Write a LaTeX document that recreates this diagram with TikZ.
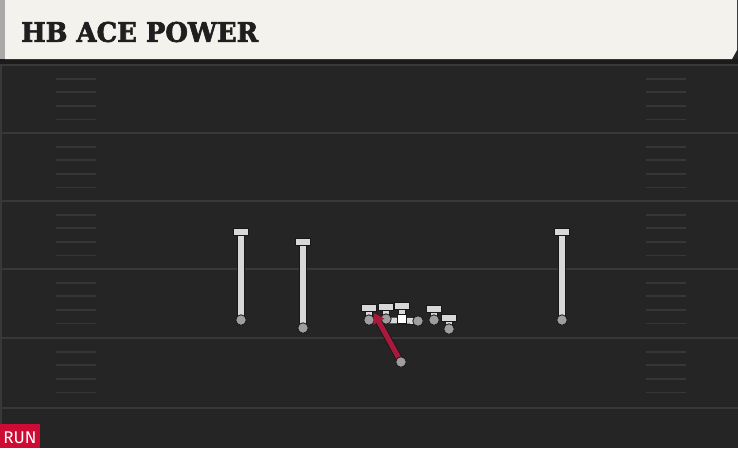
\documentclass[tikz,border=0pt]{standalone}
\usepackage{fontspec}
\usetikzlibrary{arrows.meta}
\newfontfamily\titlefont{DejaVu Serif Bold}[FakeBold=2.5]
\newfontfamily\tagfont{Fira Sans}
\definecolor{fieldbg}{HTML}{252525}
\definecolor{fieldline}{HTML}{383838}
\definecolor{hashc}{HTML}{363636}
\definecolor{cream}{HTML}{F4F2ED}
\definecolor{stripe}{HTML}{A9A9A9}
\definecolor{darkband}{HTML}{1B1B1B}
\definecolor{routec}{HTML}{D8D8D8}
\definecolor{outlinec}{HTML}{181818}
\definecolor{playerc}{HTML}{9E9E9E}
\definecolor{runred}{HTML}{A8193B}
\definecolor{tagred}{HTML}{CE0B34}
\tikzset{
  routeout/.style={line width=7.6pt, outlinec},
  routein/.style={line width=5.8pt, routec},
  player/.style={circle, fill=playerc, draw=outlinec, line width=0.8pt, minimum size=10.5pt, inner sep=0pt},
  center/.style={rectangle, fill=white, draw=outlinec, line width=0.6pt, minimum size=9.5pt, inner sep=0pt},
  tbar/.style={rectangle, fill=routec, draw=outlinec, line width=0.8pt, minimum width=14.5pt, minimum height=6.5pt, inner sep=0pt},
  yardline/.style={line width=2.2pt, fieldline},
  hashmark/.style={line width=1.8pt, hashc},
}
\begin{document}
\begin{tikzpicture}[x=1pt, y=-1pt]
\useasboundingbox (0,0) rectangle (738,448);
% field
\fill[fieldbg] (0,0) rectangle (738,448);
\fill[fieldline] (0,59) rectangle (2,448);
\foreach \yy in {65,133,201,269,338,408} {
  \draw[yardline] (0,\yy) -- (738,\yy);
}
\foreach \yy in {65,133,201,269,338} {
  \foreach \k in {1,2,3,4} {
    \draw[hashmark] (56,\yy+13.6*\k) -- (96,\yy+13.6*\k);
    \draw[hashmark] (646,\yy+13.6*\k) -- (686,\yy+13.6*\k);
  }
}
% header
\fill[darkband] (0,59) rectangle (738,64);
\fill[cream] (5,0) -- (737,0) -- (737,50) -- (732,59) -- (5,59) -- cycle;
\fill[stripe] (0,0) rectangle (5,59);
\node[anchor=west, inner sep=0pt, text=black!88] (title) at (21,32)
  {\resizebox{237pt}{20pt}{\titlefont HB ACE POWER}};
% coordinates
\coordinate (wra) at (241,320); \coordinate (wrat) at (241,232);
\coordinate (wrb) at (303,328); \coordinate (wrbt) at (303,242);
\coordinate (wrc) at (562,320); \coordinate (wrct) at (562,232);
\coordinate (lt) at (369,320);  \coordinate (ltt) at (369,308);
\coordinate (lg) at (386,319);  \coordinate (lgt) at (386,307);
\coordinate (cc) at (402,319);  \coordinate (cct) at (402,306);
\coordinate (rg) at (418,321);
\coordinate (rt) at (434,320);  \coordinate (rtt) at (434,309);
\coordinate (te) at (449,329);  \coordinate (tet) at (449,318);
\coordinate (rb) at (401,362);  \coordinate (rbtip) at (374,313);
% routes outline
\foreach \a/\b in {wra/wrat, wrb/wrbt, wrc/wrct, lt/ltt, lg/lgt, cc/cct, rt/rtt, te/tet} {
  \draw[routeout] (\a) -- (\b);
}
\draw[routeout] (lt) -- (rg);
\foreach \a/\b in {wra/wrat, wrb/wrbt, wrc/wrct, lt/ltt, lg/lgt, cc/cct, rt/rtt, te/tet} {
  \draw[routein] (\a) -- (\b);
}
\draw[routein, line cap=round] (lt) -- (rg);
% T bars
\foreach \t/\n in {wrat/ta, wrbt/tb, wrct/tc, ltt/td, lgt/te2, cct/tf, rtt/tg, tet/th} {
  \node[tbar] (\n) at (\t) {};
}
% players
\node[player] (pwra) at (wra) {};
\node[player] (pwrb) at (wrb) {};
\node[player] (pwrc) at (wrc) {};
\node[player] (plt) at (lt) {};
\node[player] (plg) at (lg) {};
\node[player] (prg) at (rg) {};
\node[player] (prt) at (rt) {};
\node[player] (pte) at (te) {};
\node[center] (pc) at (cc) {};
% run route
\draw[line width=7pt, outlinec, shorten >=8pt] (rb) -- (rbtip);
\draw[line width=5.2pt, runred, -{Triangle[length=10pt, width=12pt]}] (rb) -- (rbtip);
\node[player] (prb) at (rb) {};
% run tag
\fill[tagred] (0,424) rectangle (40,448);
\node[text=white, inner sep=0pt] (tag) at (20,437.5) {\tagfont\fontsize{17pt}{17pt}\selectfont RUN};
\end{tikzpicture}
\end{document}
